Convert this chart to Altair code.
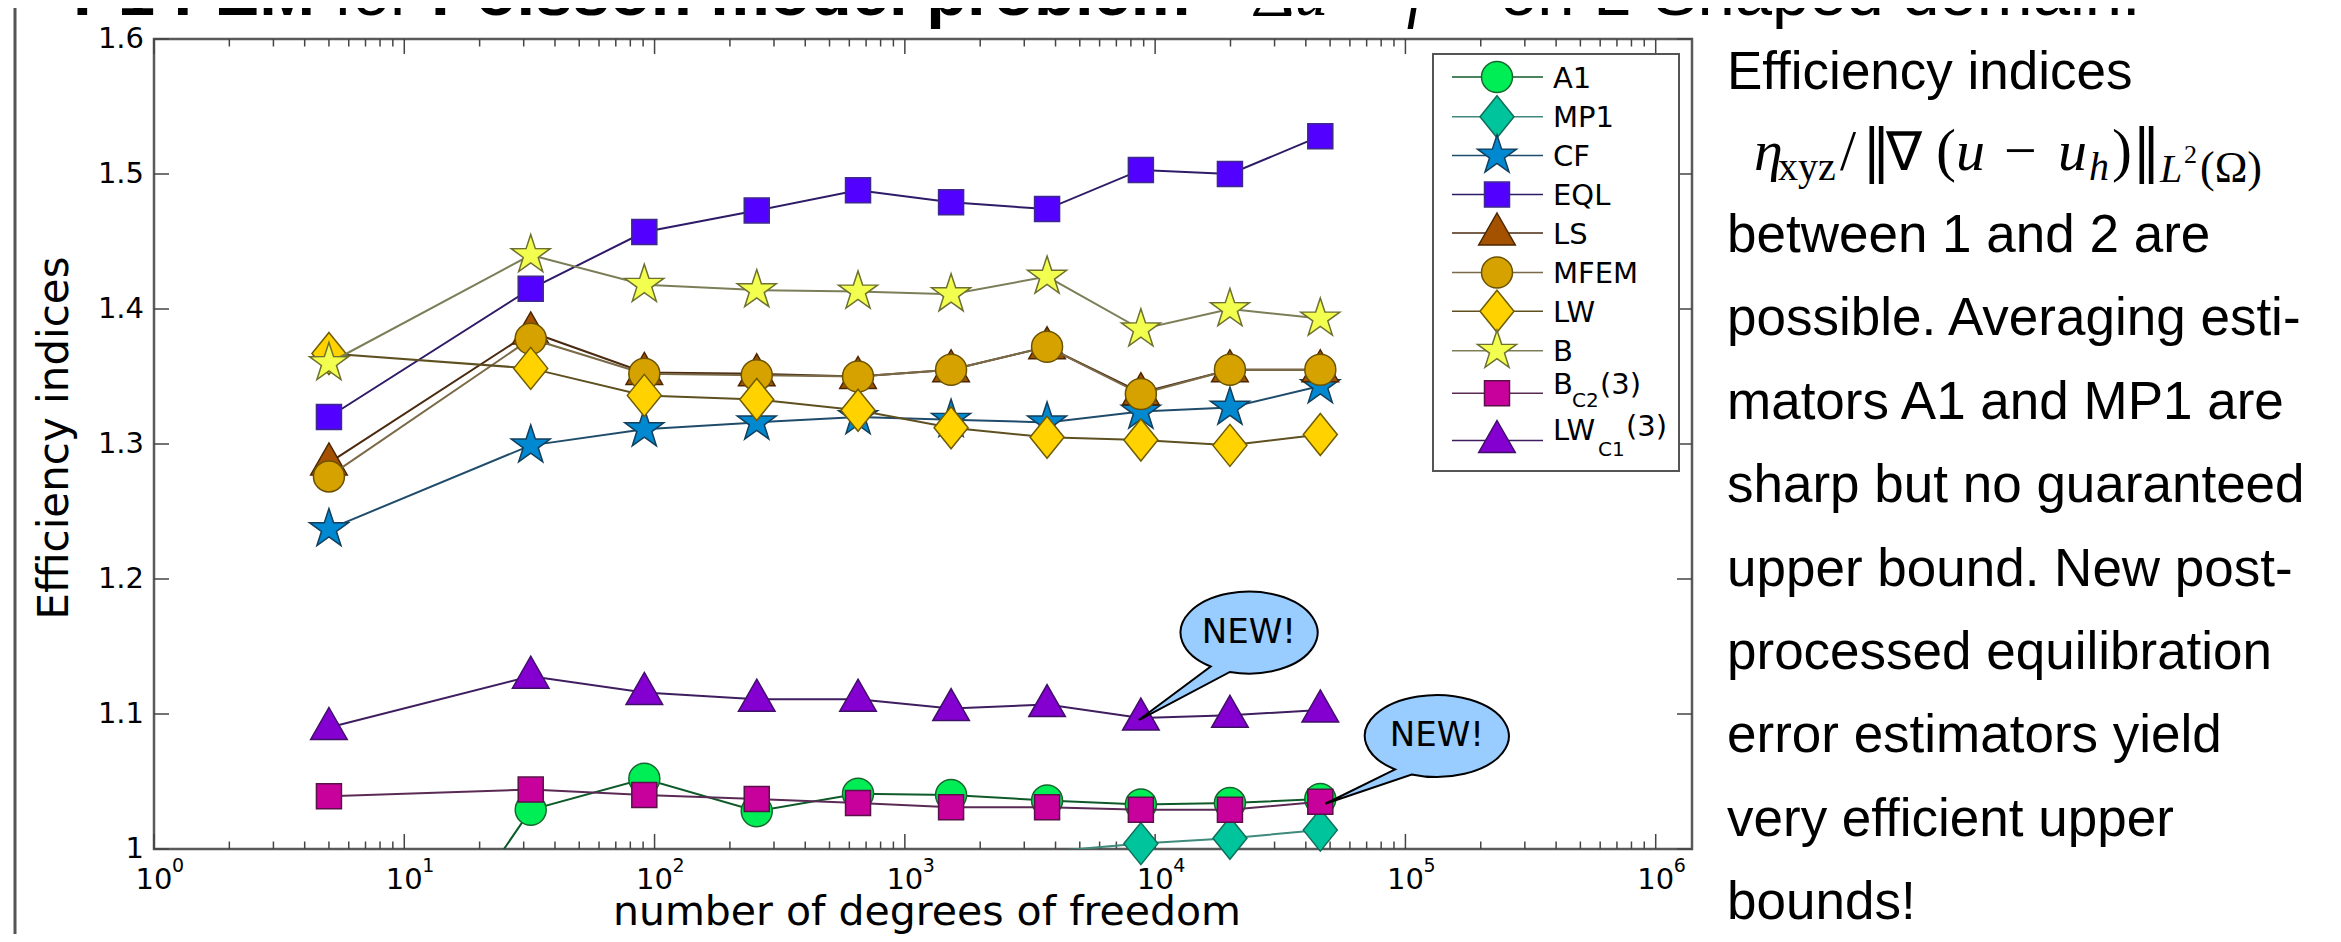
import math
import altair as alt
import pandas as pd

# ---------------- data ----------------
dof = [5, 32, 91, 256, 650, 1530, 3700, 8770, 19900, 45700]
A1 = [0.81, 1.029, 1.052, 1.028, 1.041, 1.040, 1.036, 1.033, 1.034, 1.037]
MP1 = [0.93, 0.96, 0.975, 0.98, 0.985, 0.99, 0.998, 1.004, 1.008, 1.014]
CF = [1.237, 1.299, 1.311, 1.316, 1.320, 1.318, 1.316, 1.324, 1.327, 1.343]
EQL = [1.320, 1.415, 1.457, 1.473, 1.488, 1.479, 1.474, 1.503, 1.500, 1.528]
LS = [1.286, 1.383, 1.353, 1.352, 1.350, 1.355, 1.372, 1.338, 1.355, 1.355]
MFEM = [1.276, 1.378, 1.352, 1.351, 1.350, 1.355, 1.372, 1.337, 1.355, 1.355]
LW = [1.367, 1.356, 1.336, 1.333, 1.325, 1.312, 1.305, 1.303, 1.299, 1.307]
B = [1.360, 1.440, 1.418, 1.414, 1.413, 1.411, 1.424, 1.385, 1.400, 1.393]
BC2 = [1.039, 1.044, 1.040, 1.037, 1.034, 1.031, 1.031, 1.029, 1.029, 1.035]
LWC1 = [1.090, 1.128, 1.116, 1.111, 1.111, 1.104, 1.107, 1.097, 1.099, 1.103]

names = ["A1", "MP1", "CF", "EQL", "LS", "MFEM", "LW", "B", "BC2", "LWC1"]
series_values = [A1, MP1, CF, EQL, LS, MFEM, LW, B, BC2, LWC1]
legend_labels = [("A1", "", ""), ("MP1", "", ""), ("CF", "", ""), ("EQL", "", ""),
                 ("LS", "", ""), ("MFEM", "", ""), ("LW", "", ""), ("B", "", ""),
                 ("B", "C2", "(3)"), ("LW", "C1", "(3)")]

x_major = [1, 10, 100, 1000, 10000, 100000, 1000000]
x_major_base = ["10"] * 7
x_major_exp = ["0", "1", "2", "3", "4", "5", "6"]
x_minor = [m * 10 ** k for k in range(0, 6) for m in range(2, 10)]
y_ticks = [1.0, 1.1, 1.2, 1.3, 1.4, 1.5, 1.6]
y_tick_labels = ["1", "1.1", "1.2", "1.3", "1.4", "1.5", "1.6"]

x_title = "number of degrees of freedom"
y_title = "Efficiency indices"
title_parts = ["P1 FEM", "for", "Poisson model problem", "\u2212\u0394u = f", "on L-Shaped domain!"]
right_lines = ["Efficiency indices", "between 1 and 2 are", "possible. Averaging esti-",
               "mators A1 and MP1 are", "sharp but no guaranteed", "upper bound. New post-",
               "processed equilibration", "error estimators yield", "very efficient upper",
               "bounds!"]
callout_text = "NEW!"

# ---------------- geometry / styles ----------------
W, H = 1538, 810
xscale = alt.Scale(type="log", domain=[1, 10 ** 6.145], nice=False)
yscale = alt.Scale(domain=[1.0, 1.6], nice=False, zero=False)
X = alt.X("x:Q", scale=xscale, axis=None)
Y = alt.Y("v:Q", scale=yscale, axis=None)

def star_path(R=20.5, r=7.9):
    pts = []
    for i in range(10):
        a = math.radians(-90 + 36 * i)
        rad = R if i % 2 == 0 else r
        pts.append(f"{rad * math.cos(a):.2f} {rad * math.sin(a):.2f}")
    return "M " + " L ".join(pts) + " Z"

SHAPES = {
    "circle": "M -15.5 0 A 15.5 15.5 0 1 1 15.5 0 A 15.5 15.5 0 1 1 -15.5 0 Z",
    "diamond": "M 0 -21 L 17 0 L 0 21 L -17 0 Z",
    "square": "M -12.5 -12.5 L 12.5 -12.5 L 12.5 12.5 L -12.5 12.5 Z",
    "triangle": "M 0 -20 L 18.3 12 L -18.3 12 Z",
    "star": star_path(),
}

STYLE = {  # shape, fill, edge, line
    "A1": ("circle", "#00EE55", "#17662F", "#0E5A28"),
    "MP1": ("diamond", "#00C49B", "#0E6E5A", "#3E8A7C"),
    "CF": ("star", "#0088D1", "#123F5C", "#1F4C6B"),
    "EQL": ("square", "#5200FF", "#3D2A8C", "#2E1A66"),
    "LS": ("triangle", "#A45200", "#4A2600", "#4A2A10"),
    "MFEM": ("circle", "#D6A200", "#6B5200", "#7A6A48"),
    "LW": ("diamond", "#FFD200", "#6E5C00", "#5E5020"),
    "B": ("star", "#F2FF4F", "#6E7030", "#7C7E58"),
    "BC2": ("square", "#C8009C", "#5A1048", "#5A2A55"),
    "LWC1": ("triangle", "#8400D0", "#3E1066", "#3E1E5E"),
}

TICK_C = "#444444"
SANS = "DejaVu Sans"
ARIAL = "Liberation Sans"
SERIF = "Liberation Serif"
SERIF2 = "DejaVu Serif"

def txt(s, x, y, size, font=SANS, style="normal", weight="normal", align="left",
        baseline="alphabetic", angle=0, color="black"):
    return alt.Chart(pd.DataFrame({"t": [s]})).mark_text(
        align=align, baseline=baseline, font=font, fontSize=size, fontStyle=style,
        fontWeight=weight, angle=angle, color=color
    ).encode(x=alt.value(x), y=alt.value(y), text="t:N")

one = pd.DataFrame({"d": [0]})
layers = []

# left slide border
layers.append(alt.Chart(one).mark_rule(color="#555555", strokeWidth=3).encode(
    x=alt.value(-139), y=alt.value(-31), y2=alt.value(H + 85)))

# ticks (inward, MATLAB style)
maj = pd.DataFrame({"x": x_major, "base": x_major_base, "exp": x_major_exp})
mnr = pd.DataFrame({"x": x_minor})
yt = pd.DataFrame({"v": y_ticks, "label": y_tick_labels})
layers += [
    alt.Chart(maj).mark_rule(color=TICK_C, strokeWidth=1.5).encode(x=X, y=alt.value(H), y2=alt.value(H - 15)),
    alt.Chart(maj).mark_rule(color=TICK_C, strokeWidth=1.5).encode(x=X, y=alt.value(0), y2=alt.value(15)),
    alt.Chart(mnr).mark_rule(color=TICK_C, strokeWidth=1.5).encode(x=X, y=alt.value(H), y2=alt.value(H - 7.5)),
    alt.Chart(mnr).mark_rule(color=TICK_C, strokeWidth=1.5).encode(x=X, y=alt.value(0), y2=alt.value(7.5)),
    alt.Chart(yt).mark_rule(color=TICK_C, strokeWidth=1.5).encode(y=Y, x=alt.value(0), x2=alt.value(15)),
    alt.Chart(yt).mark_rule(color=TICK_C, strokeWidth=1.5).encode(y=Y, x=alt.value(W - 15), x2=alt.value(W)),
    # tick labels
    alt.Chart(yt).mark_text(align="right", baseline="middle", font=SANS, fontSize=29).encode(
        y=Y, x=alt.value(-10), text="label:N"),
    alt.Chart(maj).mark_text(align="center", baseline="alphabetic", font=SANS, fontSize=29).encode(
        x=X, y=alt.value(850), text="base:N"),
    alt.Chart(maj).mark_text(align="left", baseline="alphabetic", font=SANS, fontSize=19, dx=18).encode(
        x=X, y=alt.value(833), text="exp:N"),
]

# series
rows = []
for n, vals in zip(names, series_values):
    for xv, v in zip(dof, vals):
        rows.append({"s": n, "x": xv, "v": v})
df = pd.DataFrame(rows)
for n in names:
    shp, fc, ec, lc = STYLE[n]
    layers.append(alt.Chart(df).mark_line(clip=True, color=lc, strokeWidth=2).encode(x=X, y=Y)
                  .transform_filter(f"datum.s === '{n}'"))
    layers.append(alt.Chart(df).mark_point(shape=SHAPES[shp], size=4, filled=True, fill=fc, stroke=ec,
                                           strokeWidth=1.5, opacity=1).encode(x=X, y=Y)
                  .transform_filter(f"datum.s === '{n}' && datum.v >= 1"))

# callouts
bub1 = "M -2 2 L 69.8 -51.5 A 68.5 41 0 1 1 89 -46.1 Z"
bub2 = "M 5 2 L 74.8 -32.3 A 72 41 0 1 1 91.4 -27.3 Z"
for path, xv, v, dx, dy in [(bub1, dof[7], LWC1[7], 108, -85.5), (bub2, dof[9], BC2[9], 116.6, -65.7)]:
    d = pd.DataFrame({"x": [xv], "v": [v]})
    layers.append(alt.Chart(d).mark_point(shape=path, size=4, filled=True, fill="#99CCFF", stroke="black",
                                          strokeWidth=2, opacity=1).encode(x=X, y=Y))
    layers.append(alt.Chart(d).mark_text(text=callout_text, dx=dx, dy=dy, align="center", baseline="middle",
                                         font=SANS, fontSize=34, color="black").encode(x=X, y=Y))

# legend
layers.append(alt.Chart(one).mark_rect(fill="white", stroke="#555555", strokeWidth=2).encode(
    x=alt.value(1279), x2=alt.value(1525), y=alt.value(15), y2=alt.value(432)))
leg_y = [38, 77.7, 116.5, 155.6, 194, 233.5, 272.2, 311.7, 354.3, 401.5]
for n, yy, lab in zip(names, leg_y, legend_labels):
    shp, fc, ec, lc = STYLE[n]
    layers.append(alt.Chart(one).mark_rule(color=lc, strokeWidth=1.5).encode(
        x=alt.value(1298), x2=alt.value(1389), y=alt.value(yy)))
    layers.append(alt.Chart(one).mark_point(shape=SHAPES[shp], size=4, filled=True, fill=fc, stroke=ec,
                                            strokeWidth=1.5, opacity=1).encode(x=alt.value(1343), y=alt.value(yy)))
    main, sub, after = lab
    if not sub:
        layers.append(txt(main, 1399, yy + 10.5, 29))
layers += [
    txt("B", 1399, 355, 29), txt("C2", 1418, 368, 20), txt("(3)", 1446, 355, 29),
    txt("LW", 1399, 401, 29), txt("C1", 1444, 417, 20), txt("(3)", 1472, 397, 29),
]

# axis titles
layers.append(txt(x_title, 773, 886, 41, align="center"))
layers.append(txt(y_title, -86, 399, 42, align="center", angle=270))

# slide title (cut at the top)
ty = -24
layers += [
    txt(title_parts[0], -81, ty, 67, font=ARIAL, weight="bold"),
    txt(title_parts[1], 180, ty, 67, font=ARIAL),
    txt(title_parts[2], 277, ty, 67, font=ARIAL, weight="bold"),
    txt(title_parts[3], 1056, ty, 67, font=SERIF, style="italic"),
    txt(title_parts[4], 1346, ty, 67, font=ARIAL),
]

# right text block
RX = 1573
line_y = [50, 213, 296.4, 379.8, 463.2, 546.6, 630, 713.4, 796.8, 880.2]
for s, yy in zip(right_lines, line_y):
    layers.append(txt(s, RX, yy, 53, font=ARIAL))

# formula  eta_xyz / || grad(u - u_h) ||_{L^2(Omega)}
FB, SB = 131, 141
layers += [
    txt("\u03b7", 1600, FB, 58, font=SERIF, style="italic"),
    txt("xyz", 1624, SB, 40, font=SERIF),
    txt("/", 1686, FB, 58, font=SERIF),
    txt("\u2016", 1708, FB, 58, font=SERIF2),
    txt("\u2207", 1732, FB, 54, font=SERIF),
    txt("(", 1782, FB, 60, font=SERIF),
    txt("u", 1802, FB, 58, font=SERIF, style="italic"),
    txt("\u2212", 1850, FB, 58, font=SERIF),
    txt("u", 1904, FB, 58, font=SERIF, style="italic"),
    txt("h", 1935, SB, 40, font=SERIF, style="italic"),
    txt(")", 1958, FB, 60, font=SERIF),
    txt("\u2016", 1978, FB, 58, font=SERIF2),
    txt("L", 2006, SB + 2, 40, font=SERIF, style="italic"),
    txt("2", 2030, 124, 26, font=SERIF),
    txt("(\u03a9)", 2046, SB + 2, 44, font=SERIF),
]

chart = alt.layer(*layers).properties(
    width=W, height=H,
    padding={"left": 146, "top": 31, "right": 641, "bottom": 85},
    autosize=alt.AutoSizeParams(type="none"),
).configure_view(stroke="#5a5a5a", strokeWidth=2.5)

chart.save("out.html", embed_options={"renderer": "svg", "actions": False})
